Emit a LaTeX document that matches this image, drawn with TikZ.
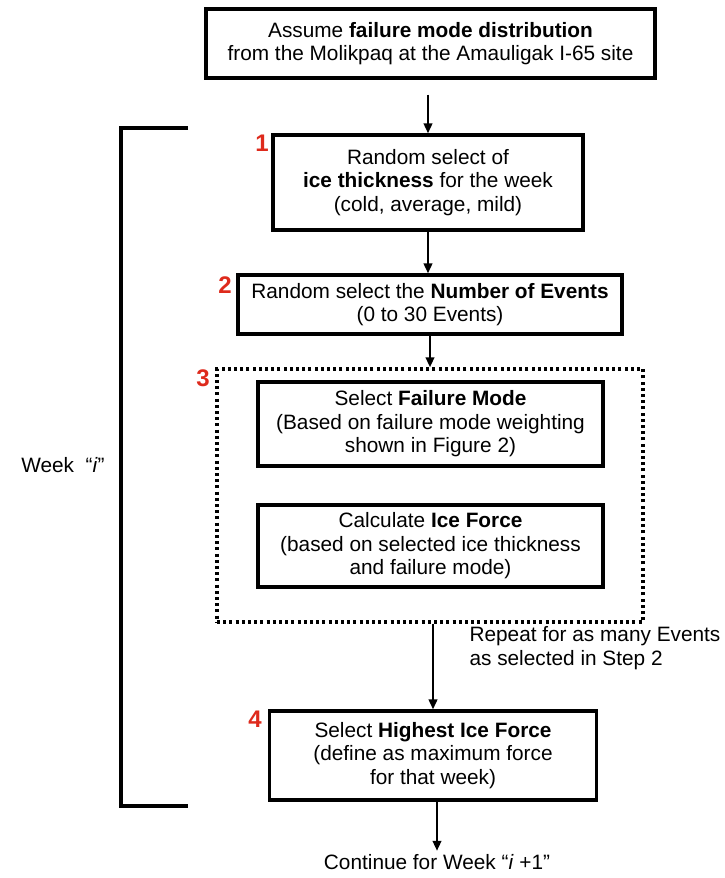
\documentclass[tikz,border=0pt]{standalone}
\usepackage{fontspec}
\setmainfont{Liberation Sans}
\usetikzlibrary{arrows.meta}
\definecolor{stepred}{RGB}{222,42,28}

\begin{document}
\begin{tikzpicture}[x=1pt,y=-1pt,
    font=\fontsize{20.8}{23.5}\selectfont,
    box/.style={draw,line width=3.2pt,align=center,inner sep=0pt},
    repeatbox/.style={draw,line width=3.4pt,dash pattern=on 3pt off 3.2pt,inner sep=0pt},
    num/.style={text=stepred,font=\fontsize{24}{24}\selectfont\bfseries},
    flow/.style={line width=2.3pt,-{Triangle[length=10pt,width=8.5pt]}}]
                    \useasboundingbox (0,0) rectangle (724,878);

                    \node[box,minimum width=449pt,minimum height=69pt] (assume) at (430.5,43.5)
                        {Assume \textbf{failure mode distribution}\\from the Molikpaq at the Amauligak I-65 site};
                    \node[box,minimum width=310pt,minimum height=95pt] (thick) at (428,182.5)
                        {Random select of\\\textbf{ice thickness} for the week\\(cold, average, mild)};
                    \node[box,minimum width=384pt,minimum height=59pt] (events) at (430,304.5)
                        {Random select the \textbf{Number of Events}\\(0 to 30 Events)};
                    \node[repeatbox,minimum width=426pt,minimum height=253pt] (loop) at (430,495.5) {};
                    \node[box,minimum width=345pt,minimum height=84pt] (mode) at (430.5,424)
                        {Select \textbf{Failure Mode}\\(Based on failure mode weighting\\shown in Figure 2)};
                    \node[box,minimum width=345pt,minimum height=82pt] (force) at (430.5,546)
                        {Calculate \textbf{Ice Force}\\(based on selected ice thickness\\and failure mode)};
                    \node[box,minimum width=327pt,minimum height=89pt] (highest) at (433,755.5)
                        {Select \textbf{Highest Ice Force}\\(define as maximum force\\for that week)};
                    \node (next) at (437,862) {Continue for Week “\textit{i} +1”};

                    \node[num] (n1) at (262,143) {1};
                    \node[num] (n2) at (225,285) {2};
                    \node[num] (n3) at (203,378) {3};
                    \node[num] (n4) at (255,719) {4};

                    \node[anchor=west,align=left] (repeat) at (466,648)
                        {Repeat for as many Events\\as selected in Step 2};
                    \node (week) at (63,465) {Week\ \ “\textit{i}”};

                    \draw[line width=3.2pt] (188,128) -| (121,806) -- (188,806);

                    \coordinate (top) at ([yshift=-15pt]assume.south -| thick.north);
                    \path[flow] (top) edge node {} (thick.north);
                    \path[flow] (thick.south) edge node {} (thick.south |- events.north);
                    \path[flow] (events) edge node {} (loop);
                    \path[flow] (loop.south -| highest) edge node {} (highest.north);
                    \path[flow] (highest.south -| next) edge node {} (next.north);
                \end{tikzpicture}
\end{document}
